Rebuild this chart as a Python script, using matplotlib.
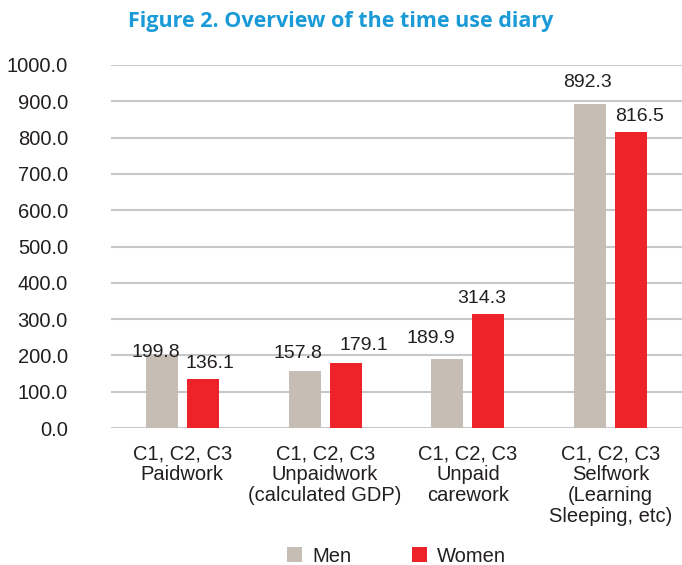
import numpy as np
import matplotlib.pyplot as plt

# data
categories = ["C1, C2, C3\nPaidwork",
              "C1, C2, C3\nUnpaidwork\n(calculated GDP)",
              "C1, C2, C3\nUnpaid\ncarework",
              "C1, C2, C3\nSelfwork\n(Learning\nSleeping, etc)"]
men = [199.8, 157.8, 189.9, 892.3]
women = [136.1, 179.1, 314.3, 816.5]
yticks = [0, 100, 200, 300, 400, 500, 600, 700, 800, 900, 1000]

# hand placed label offsets (pixels from top centre of each bar), as in the original
men_off = [(-6, -2), (-7, 13), (-17, 16), (-3, 17)]
women_off = [(7, 11), (18, 13), (-7, 11), (9, 11)]

TXT = "#231f20"
plt.rcParams['font.family'] = ['Liberation Sans', 'DejaVu Sans']

fig = plt.figure(figsize=(6.82, 5.65), dpi=100)
ax = fig.add_axes([111/682, 1 - 428/565, 571/682, 363/565])

x = np.arange(len(categories))
w = 0.224
off = 0.143
b1 = ax.bar(x - off, men, w, color="#c6beb5", label="Men", zorder=3)
b2 = ax.bar(x + off, women, w, color="#ee2229", label="Women", zorder=3)

for bars, offs in ((b1, men_off), (b2, women_off)):
    for b, (dx, dy) in zip(bars, offs):
        ax.annotate(f"{b.get_height():.1f}", (b.get_x() + b.get_width() / 2, b.get_height()),
                    xytext=(dx, dy), textcoords="offset pixels", ha="center", va="baseline",
                    fontsize=14, color=TXT, zorder=4)

ax.set_xlim(-0.5, 3.5)
ax.set_ylim(0, 1000)
ax.set_yticks(yticks)
ax.set_yticklabels([f"{v:.1f}" for v in yticks], fontsize=14.5, color=TXT)
ax.set_xticks(x)
ax.set_xticklabels(categories, fontsize=14.5, color=TXT, linespacing=1.12)
ax.tick_params(axis="both", length=0)
ax.tick_params(axis="y", pad=31)
ax.tick_params(axis="x", pad=12)
ax.grid(axis="y", color="#c8c8c8", linewidth=1.5, zorder=0)
for s in ax.spines.values():
    s.set_visible(False)

fig.text(0.5, 1 - 22/565, "Figure 2. Overview of the time use diary", ha="center", va="center",
         fontsize=15.5, fontweight="bold", color="#1a9ad6", family=["Open Sans", "DejaVu Sans"])

ax.legend(loc="center", bbox_to_anchor=(0.5, (428 - 556) / 363), ncol=2, frameon=False,
          fontsize=14.5, handlelength=0.75, handleheight=0.75, columnspacing=3.0, handletextpad=0.5,
          labelcolor=TXT)

fig.savefig("out.png", dpi=100)
